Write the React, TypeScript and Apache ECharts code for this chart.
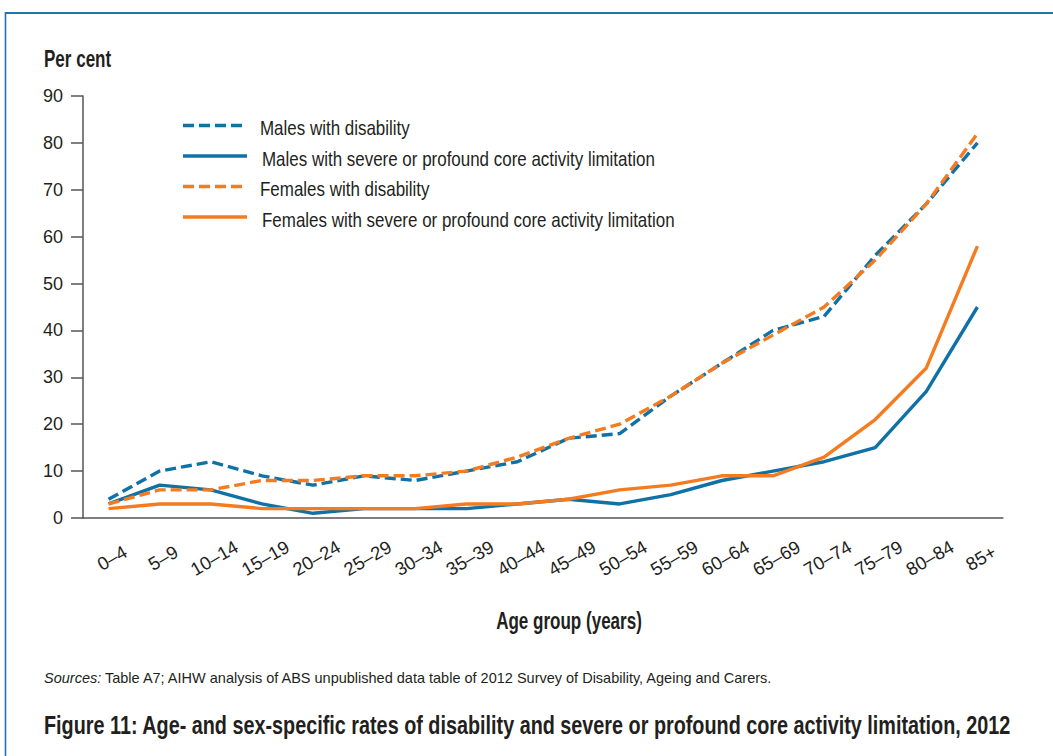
import React, { useEffect, useRef } from "react";
import * as echarts from "echarts";

const categories = ["0–4", "5–9", "10–14", "15–19", "20–24", "25–29", "30–34", "35–39", "40–44", "45–49", "50–54", "55–59", "60–64", "65–69", "70–74", "75–79", "80–84", "85+"];
const maleDisability = [4, 10, 12, 9, 7, 9, 8, 10, 12, 17, 18, 26, 33, 40, 43, 56, 67, 80];
const maleSevere = [3, 7, 6, 3, 1, 2, 2, 2, 3, 4, 3, 5, 8, 10, 12, 15, 27, 45];
const femaleDisability = [3, 6, 6, 8, 8, 9, 9, 10, 13, 17, 20, 26, 33, 39, 45, 55, 67, 82];
const femaleSevere = [2, 3, 3, 2, 2, 2, 2, 3, 3, 4, 6, 7, 9, 9, 13, 21, 32, 58];
const seriesNames = [
  "Males with disability",
  "Males with severe or profound core activity limitation",
  "Females with disability",
  "Females with severe or profound core activity limitation",
];

const FONT = "'Liberation Sans', Arial, sans-serif";
const TEXT = "#231f20";
const BLUE = "#0f71a5";
const ORANGE = "#f47b20";
const FRAME = "#1b76aa";
const DASH = [11, 5];

export default function App() {
  const ref = useRef<HTMLDivElement>(null);
  useEffect(() => {
    const chart = echarts.init(ref.current!, null, { renderer: "svg" });
    const colors = [BLUE, BLUE, ORANGE, ORANGE];
    const dashed = [true, false, true, false];
    const datasets = [maleDisability, maleSevere, femaleDisability, femaleSevere];
    const series = seriesNames.map((name, i) => ({
      name,
      type: "line",
      data: datasets[i],
      symbol: "none",
      showSymbol: false,
      lineStyle: { color: colors[i], width: 3.4, type: dashed[i] ? DASH : "solid" },
      itemStyle: { color: colors[i] },
    }));

    const legendItems: any[] = [];
    seriesNames.forEach((name, i) => {
      const y = 126 + i * 30.5;
      legendItems.push({
        type: "line",
        shape: { x1: 183, y1: y - 0.5, x2: dashed[i] ? 242 : 247, y2: y - 0.5 },
        style: { stroke: colors[i], lineWidth: 3.6, lineDash: dashed[i] ? DASH : null },
      });
      legendItems.push({
        type: "text",
        x: dashed[i] ? 260 : 262,
        y: y + 2,
        scaleX: 0.848,
        style: { text: name, fontFamily: FONT, fontSize: 20, fill: TEXT, verticalAlign: "middle" },
      });
    });

    chart.setOption({
      animation: false,
      backgroundColor: "#ffffff",
      textStyle: { fontFamily: FONT, color: TEXT },
      grid: { left: 83, right: 50, top: 96, bottom: 238 },
      xAxis: {
        type: "category",
        data: categories,
        boundaryGap: true,
        axisLine: { lineStyle: { color: "#555555", width: 1.5 } },
        axisTick: { alignWithLabel: true, interval: 0, length: 11, lineStyle: { color: "#555555", width: 1.5 } },
        axisLabel: {
          interval: 0,
          rotate: 30,
          align: "center",
          verticalAlign: "middle",
          margin: 42,
          fontSize: 18.5,
          fontFamily: FONT,
          color: TEXT,
          padding: [0, 0, 0, 8],
        },
      },
      yAxis: {
        type: "value",
        min: 0,
        max: 90,
        interval: 10,
        splitLine: { show: false },
        axisLine: { show: true, lineStyle: { color: "#555555", width: 1.5 } },
        axisTick: { show: true, length: 12, lineStyle: { color: "#555555", width: 1.5 } },
        axisLabel: { margin: 20, fontSize: 18, fontFamily: FONT, color: TEXT },
      },
      series,
      graphic: [
        { type: "line", shape: { x1: 5, y1: 13, x2: 1053, y2: 13 }, style: { stroke: FRAME, lineWidth: 2.2 } },
        { type: "line", shape: { x1: 5.5, y1: 12, x2: 5.5, y2: 756 }, style: { stroke: FRAME, lineWidth: 1.6 } },
        ...legendItems,
        {
          type: "text",
          x: 44,
          y: 58,
          scaleX: 0.71,
          style: { text: "Per cent", fontFamily: FONT, fontWeight: "bold", fontSize: 24, fill: TEXT, verticalAlign: "middle" },
        },
        {
          type: "text",
          x: 569,
          y: 620,
          scaleX: 0.71,
          style: { text: "Age group (years)", fontFamily: FONT, fontWeight: "bold", fontSize: 24, fill: TEXT, align: "center", verticalAlign: "middle" },
        },
        {
          type: "text",
          x: 44,
          y: 678,
          style: {
            text: "{i|Sources:} Table A7; AIHW analysis of ABS unpublished data table of 2012 Survey of Disability, Ageing and Carers.",
            fontFamily: FONT,
            fontSize: 14.5,
            fill: TEXT,
            verticalAlign: "middle",
            rich: { i: { fontStyle: "italic", fontFamily: FONT, fontSize: 14.5, fill: TEXT } },
          },
        },
        {
          type: "text",
          x: 44,
          y: 726,
          scaleX: 0.792,
          style: {
            text: "Figure 11: Age- and sex-specific rates of disability and severe or profound core activity limitation, 2012",
            fontFamily: FONT,
            fontWeight: "bold",
            fontSize: 25,
            fill: TEXT,
            verticalAlign: "middle",
          },
        },
      ],
    });
    return () => chart.dispose();
  }, []);
  return <div ref={ref} style={{ position: "fixed", left: 0, top: 0, width: 1053, height: 756 }} />;
}
